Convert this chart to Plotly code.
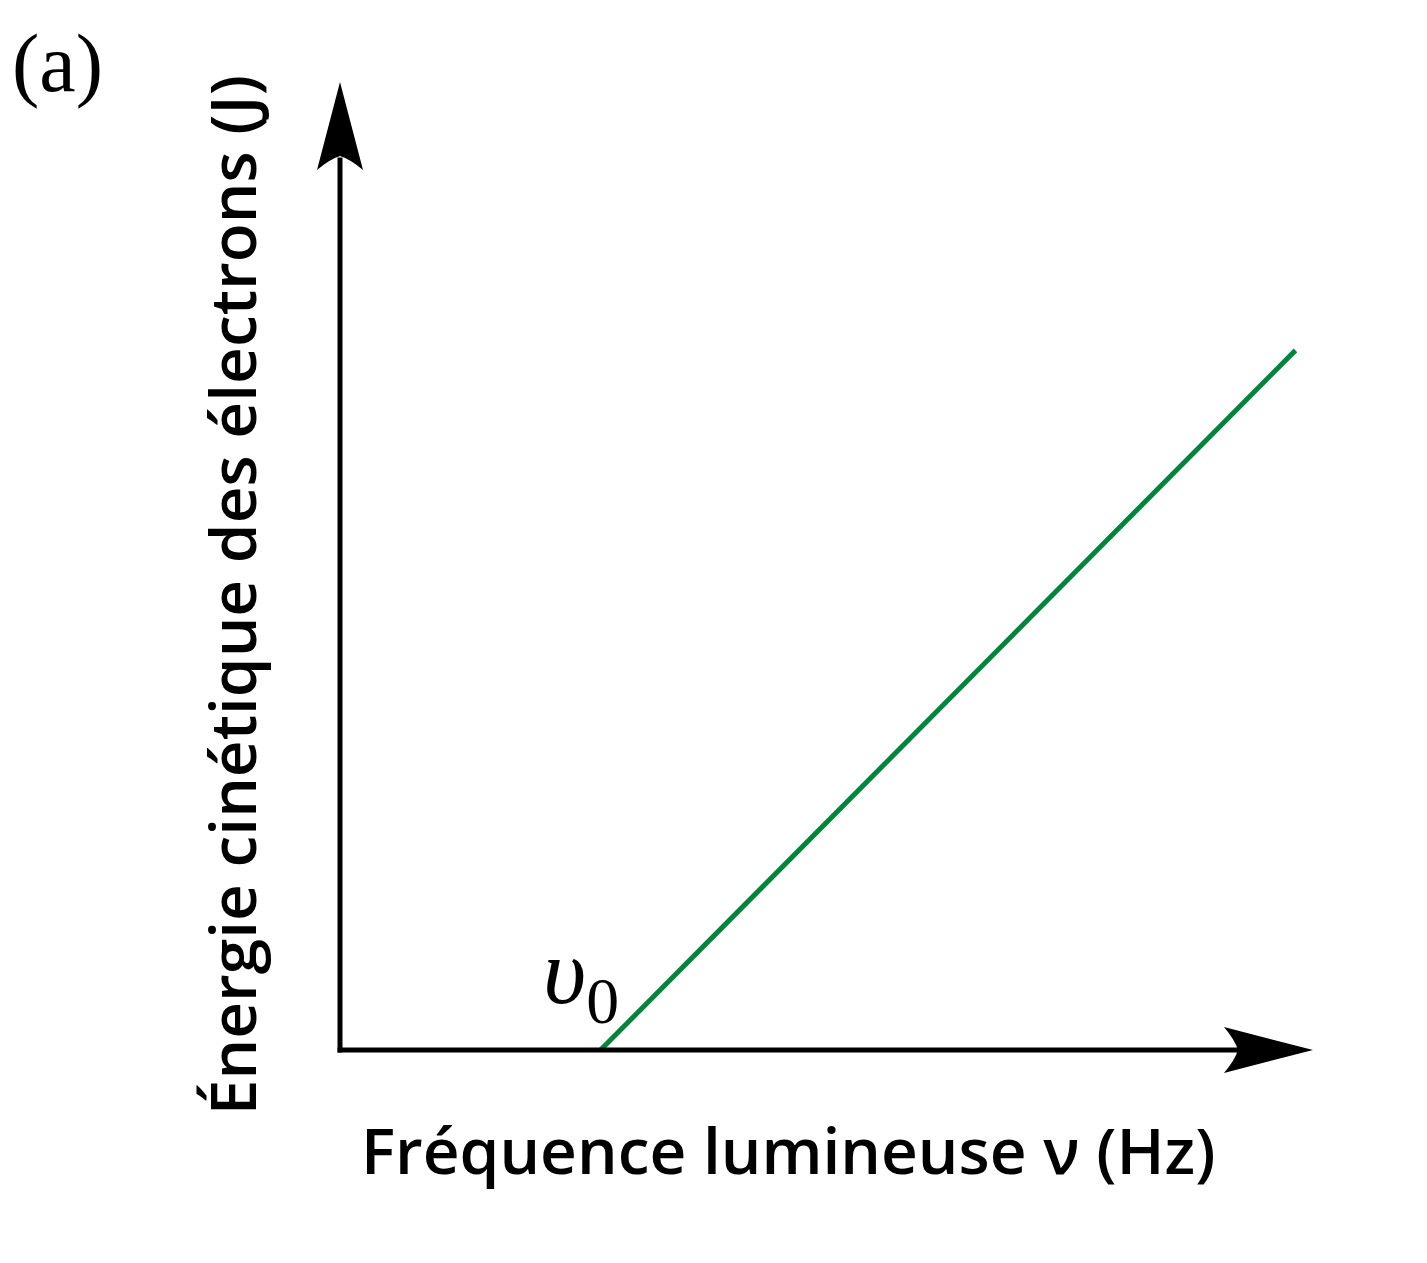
import plotly.graph_objects as go

# Data (arbitrary units)
frequency = [2.68, 9.83]      # ν from threshold ν0 to end
energy = [0.0, 7.25]          # kinetic energy
threshold_label = "<i>υ</i><sub>0</sub>"
x_title = "Fréquence lumineuse ν (Hz)"
y_title = "Énergie cinétique des électrons (J)"
panel_label = "(a)"

W, H = 1427, 1263
OFF = 8  # page body margin
L, R, T, B = 340 - OFF, 123, 85 - OFF, 221

fig = go.Figure()
fig.add_trace(go.Scatter(x=frequency, y=energy, mode="lines",
                         line=dict(color="#00843D", width=5),
                         hoverinfo="skip", showlegend=False))

ax = dict(range=[0, 10], visible=False, fixedrange=True)
fig.update_layout(
    width=W, height=H,
    margin=dict(l=L, r=R, t=T, b=B),
    paper_bgcolor="white", plot_bgcolor="white",
    xaxis=ax, yaxis=ax, showlegend=False,
)

shapes = []
# axis lines
shapes.append(dict(type="line", xref="paper", yref="paper", x0=-0.0025, y0=0, x1=0.93, y1=0,
                   line=dict(color="black", width=5)))
shapes.append(dict(type="line", xref="paper", yref="paper", x0=0, y0=-0.0025, x1=0, y1=0.925,
                   line=dict(color="black", width=5)))
# arrowheads (pixel-sized)
shapes.append(dict(type="path", xref="paper", yref="paper", xsizemode="pixel", ysizemode="pixel",
                   xanchor=1.001, yanchor=0,
                   path="M0,0 L-89,23 Q-78,10 -75,0 Q-78,-10 -89,-23 Z",
                   fillcolor="black", line=dict(width=0)))
shapes.append(dict(type="path", xref="paper", yref="paper", xsizemode="pixel", ysizemode="pixel",
                   xanchor=0, yanchor=1.0031,
                   path="M0,0 L-23,-88 Q-10,-77 0,-74 Q10,-77 23,-88 Z",
                   fillcolor="black", line=dict(width=0)))
fig.update_layout(shapes=shapes)

sans = "Open Sans"
fig.add_annotation(text=x_title, xref="paper", yref="paper", x=0.461, y=-0.1036,
                   xanchor="center", yanchor="middle", showarrow=False,
                   font=dict(family=sans, size=64, color="black", weight=600))
fig.add_annotation(text=y_title, xref="paper", yref="paper", x=-0.112, y=0.4715,
                   xanchor="center", yanchor="middle", showarrow=False, textangle=-90,
                   font=dict(family=sans, size=64, color="black", weight=600))
fig.add_annotation(text=panel_label, xref="paper", yref="paper", x=-0.2911, y=1.0218,
                   xanchor="center", yanchor="middle", showarrow=False,
                   font=dict(family="Liberation Serif", size=82, color="black"))
fig.add_annotation(text=threshold_label, xref="paper", yref="paper", x=0.2475, y=0.075,
                   xanchor="center", yanchor="middle", showarrow=False,
                   font=dict(family="Liberation Serif", size=94, color="black"))

fig.write_html("out.html")
